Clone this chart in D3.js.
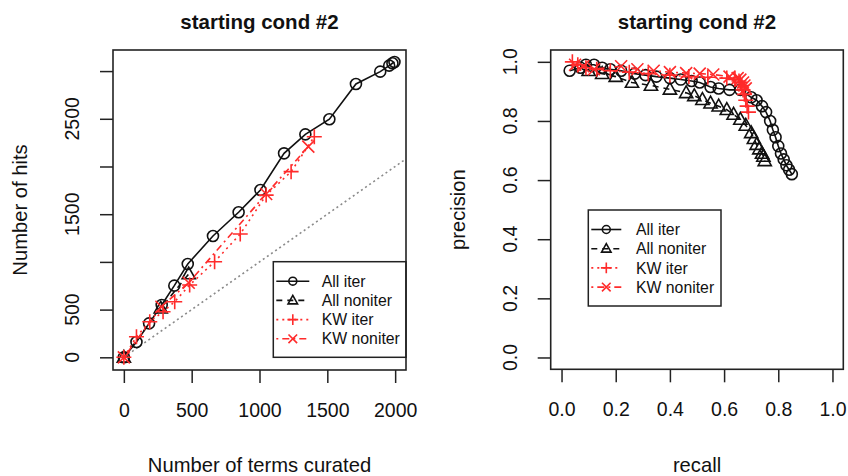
<!DOCTYPE html>
<html lang="en">
<head>
<meta charset="UTF-8">
<title>starting cond #2</title>
<script src="https://d3js.org/d3.v7.min.js"></script>
<style>
  body { margin: 0; background: #fff; }
  svg text { font-family: "Liberation Sans", Arial, Helvetica, sans-serif; fill: #111; }
</style>
</head>
<body>
<svg id="chart" width="848" height="476"></svg>
<script>
// ---- left panel: hits vs terms curated ----
const allIterTerms = [0, 93, 186, 279, 372, 471, 657, 846, 1007, 1181, 1338, 1515, 1711, 1890, 1956, 1980, 1995];
const allIterHits  = [0, 160, 356, 548, 751, 978, 1272, 1520, 1754, 2138, 2337, 2495, 2865, 2994, 3057, 3082, 3095];
const allNonTerms  = [0, 272, 478];
const allNonHits   = [0, 514, 873];
const kwIterTerms  = [0, 93, 191, 289, 375, 485, 669, 858, 1049, 1233, 1404];
const kwIterHits   = [0, 216, 373, 478, 583, 758, 1002, 1292, 1700, 1946, 2312];
const kwNonTerms   = [0, 277, 478, 1049, 1360];
const kwNonHits    = [0, 530, 782, 1712, 2208];
const leftXTicks = [0, 500, 1000, 1500, 2000];
const leftYTicks = [0, 500, 1000, 1500, 2000, 2500, 3000];
const leftYLabels = [0, 500, 1500, 2500];

// ---- right panel: precision vs recall ----
const allIterRecall = [0.03, 0.07, 0.09, 0.12, 0.15, 0.18, 0.22, 0.27, 0.31, 0.35, 0.40, 0.44, 0.48, 0.51, 0.55, 0.58, 0.62, 0.66, 0.70, 0.72, 0.74, 0.755, 0.77, 0.78, 0.79, 0.80, 0.81, 0.82, 0.83, 0.84, 0.85];
const allIterPrec   = [0.97, 0.98, 0.99, 0.99, 0.98, 0.975, 0.97, 0.96, 0.955, 0.95, 0.945, 0.94, 0.935, 0.93, 0.915, 0.91, 0.905, 0.905, 0.88, 0.87, 0.85, 0.83, 0.80, 0.77, 0.745, 0.715, 0.69, 0.67, 0.65, 0.635, 0.62];
const allNonRecall  = [0.10, 0.15, 0.20, 0.26, 0.33, 0.40, 0.46, 0.49, 0.52, 0.55, 0.58, 0.61, 0.635, 0.66, 0.68, 0.70, 0.71, 0.72, 0.73, 0.74, 0.745, 0.75];
const allNonPrec    = [0.97, 0.96, 0.95, 0.93, 0.92, 0.907, 0.895, 0.885, 0.872, 0.86, 0.85, 0.838, 0.822, 0.805, 0.785, 0.76, 0.74, 0.72, 0.705, 0.69, 0.68, 0.665];
const kwIterRecall  = [0.04, 0.06, 0.09, 0.13, 0.18, 0.25, 0.32, 0.40, 0.47, 0.54, 0.61, 0.64, 0.655, 0.66, 0.665, 0.67, 0.675, 0.68, 0.685, 0.69];
const kwIterPrec    = [1.0, 0.99, 0.98, 0.975, 0.97, 0.965, 0.96, 0.955, 0.95, 0.948, 0.945, 0.94, 0.935, 0.93, 0.92, 0.905, 0.89, 0.87, 0.85, 0.83];
const kwNonRecall   = [0.05, 0.08, 0.12, 0.22, 0.28, 0.34, 0.40, 0.46, 0.51, 0.56, 0.62, 0.65, 0.66, 0.67, 0.675, 0.68];
const kwNonPrec     = [0.99, 0.985, 0.975, 0.985, 0.975, 0.97, 0.965, 0.962, 0.96, 0.957, 0.95, 0.945, 0.94, 0.93, 0.92, 0.91];
const rightTicks = [0, 0.2, 0.4, 0.6, 0.8, 1.0];

const seriesNames = ["All iter", "All noniter", "KW iter", "KW noniter"];
const titleText = "starting cond #2";

const RED = "#ff2b2b";
const styles = [
  { color: "#111", dash: null, shape: "circle" },
  { color: "#111", dash: "6,5", shape: "triangle" },
  { color: RED, dash: "2,4", shape: "plus" },
  { color: RED, dash: "2,4,7,4", shape: "cross" }
];

const svg = d3.select("#chart");

function shapePath(shape) {
  if (shape === "circle") return d3.symbol(d3.symbolCircle, 95)();
  if (shape === "triangle") return "M0,-7L6.6,4.8L-6.6,4.8Z";
  if (shape === "plus") return "M-7.5,0L7.5,0M0,-7.5L0,7.5";
  return "M-6,-6L6,6M-6,6L6,-6";
}

function marker(g, shape, color, x, y, k) {
  g.append("path")
    .attr("d", shapePath(shape))
    .attr("fill", "none").attr("stroke", color).attr("stroke-width", 1.6 / k)
    .attr("transform", `translate(${x},${y}) scale(${k})`);
}

function drawSeries(g, xs, ys, x, y, st) {
  const pts = xs.map((v, i) => [x(v), y(ys[i])]);
  g.append("path")
    .attr("d", d3.line()(pts))
    .attr("fill", "none").attr("stroke", st.color).attr("stroke-width", 1.6)
    .attr("stroke-dasharray", st.dash);
  pts.forEach(p => marker(g, st.shape, st.color, p[0], p[1], 1));
}

function panel(box, x, y, xTicks, yTicks, yLabels, fmt, xTitle, yTitle) {
  const g = svg.append("g");
  const xa = g.append("g").attr("transform", `translate(0,${box.bottom})`)
    .call(d3.axisBottom(x).tickValues(xTicks).tickSize(13).tickPadding(20).tickFormat(fmt));
  const ya = g.append("g").attr("transform", `translate(${box.left},0)`)
    .call(d3.axisLeft(y).tickValues(yTicks).tickSize(13).tickFormat(""));
  [xa, ya].forEach(a => {
    a.select(".domain").remove();
    a.selectAll("line").attr("stroke", "#222").attr("stroke-width", 1.5);
  });
  xa.selectAll("text").attr("font-size", 19.5).attr("dy", "0.71em").attr("fill", "#111")
    .attr("font-family", "Liberation Sans, Arial, sans-serif");
  yLabels.forEach(v => {
    g.append("text").attr("transform", `translate(${box.left - 34},${y(v)}) rotate(-90)`)
      .attr("text-anchor", "middle").attr("font-size", 19.5).text(fmt(v));
  });
  const cx = (box.left + box.right) / 2;
  g.append("text").attr("x", cx).attr("y", 29).attr("text-anchor", "middle")
    .attr("font-size", 20.5).attr("font-weight", "bold").text(titleText);
  g.append("text").attr("x", cx).attr("y", 472).attr("text-anchor", "middle")
    .attr("font-size", 20.2).text(xTitle);
  g.append("text").attr("transform", `translate(${box.left - 86},${(box.top + box.bottom) / 2}) rotate(-90)`)
    .attr("text-anchor", "middle").attr("font-size", 20.2).text(yTitle);
  return g;
}

function frame(g, box) {
  g.append("rect").attr("x", box.left).attr("y", box.top)
    .attr("width", box.right - box.left).attr("height", box.bottom - box.top)
    .attr("fill", "none").attr("stroke", "#222").attr("stroke-width", 1.6);
}

function legend(g, lx, ty, w, h, segW, textX) {
  g.append("rect").attr("x", lx).attr("y", ty).attr("width", w).attr("height", h)
    .attr("fill", "#fff").attr("stroke", "#222").attr("stroke-width", 1.5);
  seriesNames.forEach((name, i) => {
    const st = styles[i];
    const ry = ty + 19.5 + i * 19.2;
    g.append("line").attr("x1", lx + 3).attr("x2", lx + 3 + segW).attr("y1", ry).attr("y2", ry)
      .attr("stroke", st.color).attr("stroke-width", 1.6).attr("stroke-dasharray", st.dash);
    marker(g, st.shape, st.color, lx + 3 + segW / 2, ry, 0.72);
    g.append("text").attr("x", textX).attr("y", ry + 5.6).attr("font-size", 15.8).text(name);
  });
}

// left panel
const lBox = { left: 113, right: 406, top: 50, bottom: 370 };
const lx = d3.scaleLinear().domain([-80, 2080]).range([lBox.left, lBox.right]);
const ly = d3.scaleLinear().domain([-133, 3221]).range([lBox.bottom, lBox.top]);
const lg = panel(lBox, lx, ly, leftXTicks, leftYTicks, leftYLabels, d3.format("d"),
  "Number of terms curated", "Number of hits");
lg.append("path").attr("d", d3.line()([[lx(0), ly(0)], [lx(2080), ly(2080)]]))
  .attr("stroke", "#8a8a8a").attr("stroke-width", 1.6).attr("stroke-dasharray", "2,3").attr("fill", "none");
drawSeries(lg, allIterTerms, allIterHits, lx, ly, styles[0]);
drawSeries(lg, allNonTerms, allNonHits, lx, ly, styles[1]);
drawSeries(lg, kwIterTerms, kwIterHits, lx, ly, styles[2]);
drawSeries(lg, kwNonTerms, kwNonHits, lx, ly, styles[3]);
legend(lg, 273.3, 261.7, lBox.right - 273.3, 95.6, 33, 321.7);
frame(lg, lBox);

// right panel
const rBox = { left: 550.7, right: 843.3, top: 50, bottom: 369.3 };
const rx = d3.scaleLinear().domain([-0.04, 1.04]).range([rBox.left, rBox.right]);
const ry = d3.scaleLinear().domain([-0.04, 1.04]).range([rBox.bottom, rBox.top]);
const rg = panel(rBox, rx, ry, rightTicks, rightTicks, rightTicks, d3.format(".1f"),
  "recall", "precision");
drawSeries(rg, allIterRecall, allIterPrec, rx, ry, styles[0]);
drawSeries(rg, allNonRecall, allNonPrec, rx, ry, styles[1]);
drawSeries(rg, kwIterRecall, kwIterPrec, rx, ry, styles[2]);
drawSeries(rg, kwNonRecall, kwNonPrec, rx, ry, styles[3]);
legend(rg, 588.3, 210, 132.7, 96, 30, 636);
frame(rg, rBox);
</script>
</body>
</html>
